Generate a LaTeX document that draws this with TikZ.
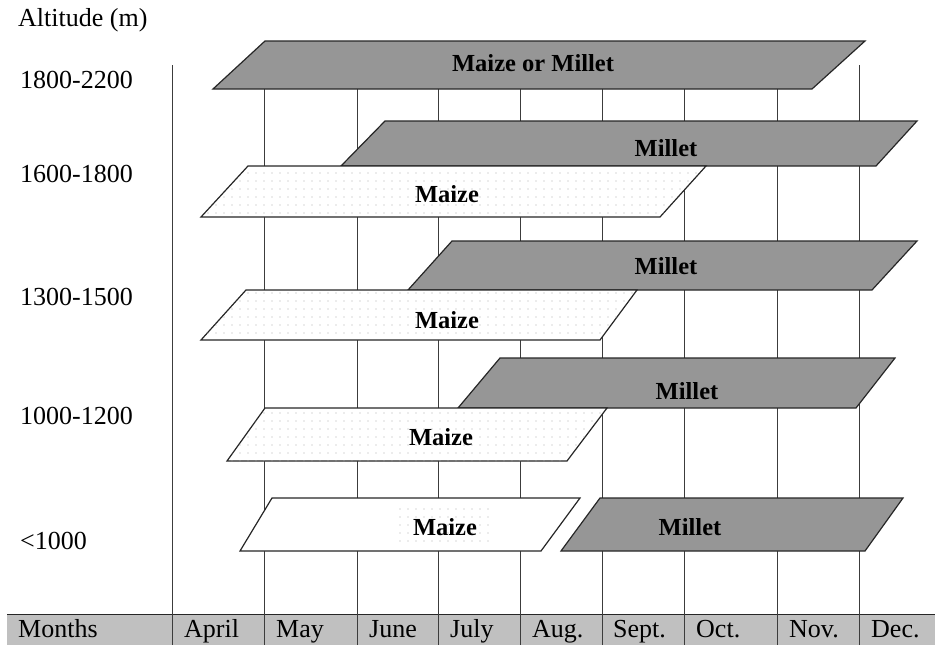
\documentclass[tikz,border=0pt]{standalone}
\usepackage{fontspec}
\setmainfont{Liberation Serif}
\usetikzlibrary{patterns.meta}
\definecolor{cropgray}{RGB}{150,150,150}
\definecolor{bargray}{RGB}{192,192,192}
\definecolor{gridcol}{RGB}{60,60,60}
\definecolor{dotcol}{RGB}{175,175,175}
\tikzset{
  gridline/.style={draw=gridcol, line width=1pt},
  millet/.style={draw=black!85, line width=1.2pt, fill=cropgray},
  maize/.style={draw=black!85, line width=1.2pt, fill=white, postaction={pattern={Dots[distance=8pt, radius=0.55pt]}, pattern color=dotcol}},
  plain/.style={draw=black!85, line width=1.2pt, fill=white},
  dotpatch/.style={fill=white, postaction={pattern={Dots[distance=8pt, radius=0.55pt]}, pattern color=dotcol}},
  croplbl/.style={font=\fontsize{24.5}{28}\selectfont\bfseries, inner sep=0pt, anchor=base},
  axislbl/.style={font=\fontsize{26}{30}\selectfont, inner sep=0pt, anchor=base west},
}
% #1 bl x, #2 tl x, #3 tr x, #4 br x, #5 top y, #6 bottom y, #7 style
\newcommand{\cropbox}[7]{\path[#7] (#1,#6) -- (#2,#5) -- (#3,#5) -- (#4,#6) -- cycle;}
\begin{document}
\begin{tikzpicture}[x=1pt,y=-1pt]
\useasboundingbox (0,0) rectangle (935,645);
% bottom bar
\path[fill=bargray] (7,614) rectangle (935,645);
\draw[line width=1pt, black!85] (7,614) -- (935,614);
% grid lines
\foreach \gx in {172,264,357,438,520,602,684,777,859}
  \draw[gridline] (\gx,65) -- (\gx,645);
% crop boxes
\cropbox{213}{265}{865}{812}{41}{89}{millet}
\cropbox{341}{385}{917}{876}{121}{166}{millet}
\cropbox{201}{248}{706}{660}{166}{217}{maize}
\cropbox{408}{452}{917}{872}{241}{290}{millet}
\cropbox{201}{246}{637}{600}{290}{340}{maize}
\cropbox{458}{500}{895}{856}{358}{408}{millet}
\cropbox{227}{265}{607}{567}{408}{461}{maize}
\cropbox{240}{272}{580}{541}{498}{551}{plain}
\path[dotpatch] (398,505) rectangle (490,546);
\cropbox{561}{600}{903}{865}{498}{551}{millet}
% crop labels
\node[croplbl] (l1) at (533,71) {Maize or Millet};
\node[croplbl] (l2) at (666,156) {Millet};
\node[croplbl] (l3) at (447,202) {Maize};
\node[croplbl] (l4) at (666,274) {Millet};
\node[croplbl] (l5) at (447,328) {Maize};
\node[croplbl] (l6) at (687,399) {Millet};
\node[croplbl] (l7) at (441,445) {Maize};
\node[croplbl] (l8) at (445,535) {Maize};
\node[croplbl] (l9) at (690,535) {Millet};
% altitude labels
\node[axislbl] (alt) at (18,27) {Altitude (m)};
\node[axislbl] (a1) at (20,88.5) {1800-2200};
\node[axislbl] (a2) at (20,182.5) {1600-1800};
\node[axislbl] (a3) at (20,305.5) {1300-1500};
\node[axislbl] (a4) at (20,424.5) {1000-1200};
\node[axislbl] (a5) at (20,549.5) {<1000};
% month labels
\node[axislbl] (m0) at (18,637) {Months};
\node[axislbl] (m1) at (184,637) {April};
\node[axislbl] (m2) at (276,637) {May};
\node[axislbl] (m3) at (369,637) {June};
\node[axislbl] (m4) at (450,637) {July};
\node[axislbl] (m5) at (532,637) {Aug.};
\node[axislbl] (m6) at (613,637) {Sept.};
\node[axislbl] (m7) at (696,637) {Oct.};
\node[axislbl] (m8) at (789,637) {Nov.};
\node[axislbl] (m9) at (871,637) {Dec.};
\end{tikzpicture}
\end{document}
